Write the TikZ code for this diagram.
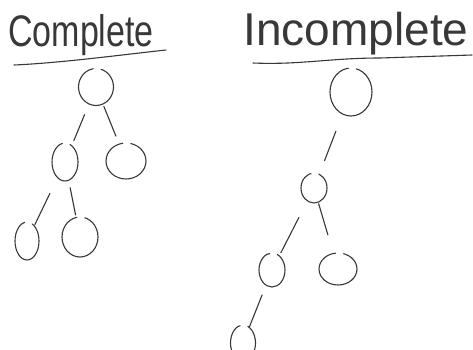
\documentclass[tikz,border=0pt]{standalone}
\usepackage{fontspec}
\setmainfont{Liberation Sans}
\usetikzlibrary{shapes.geometric}
\begin{document}
\begin{tikzpicture}[x=1pt,y=-1pt,
  ink/.style={draw=black!78, line width=1.1pt, line cap=round},
  % hand-drawn loop: an ellipse left slightly open near its top
  loop/.style n args={3}{ink, ellipse, inner sep=0pt,
    minimum width=#1pt, minimum height=#2pt,
    dash pattern=on #3pt off 8pt on 400pt},
  twig/.style n args={2}{ink, shorten <=#1pt, shorten >=#2pt},
  title/.style={text=black!78, inner sep=0pt}]
\fill[white] (0,0) rectangle (473,349);
\useasboundingbox (0,0) rectangle (473,349);
\clip (0,0) rectangle (473,349);

% headings and their rules
\node[title, font=\fontsize{34}{36}\selectfont, yscale=1.3] (hc) at (81,35) {Complete};
\node[title, font=\fontsize{46}{48}\selectfont] (hi) at (356,34) {Incomplete};
\draw[ink] (14,65) .. controls (60,63) and (120,55) .. (166,50);
\draw[ink] (253,63) .. controls (300,65) and (330,58) .. (380,58) -- (472,55);

% complete tree
\node[loop={35}{37}{23}] (c0) at (96,87) {};
\node[loop={26}{38}{20}] (c1) at (65,162) {};
\node[loop={40}{36}{25}] (c2) at (126,161) {};
\node[loop={24}{38}{19}] (c3) at (27,241) {};
\node[loop={36}{40}{25}] (c4) at (80,237) {};
\draw[twig={11}{5}] (c0) -- (c1);
\draw[twig={2}{8}] (c0) -- (c2);
\draw[twig={17}{1}] (c1) -- (c3);
\draw[twig={7}{2}] (c1) -- (c4);

% incomplete tree
\node[loop={42}{48}{30}] (i0) at (351,92) {};
\node[loop={26}{30}{17}] (i1) at (314,188) {};
\node[loop={26}{34}{18}] (i2) at (272,270) {};
\node[loop={38}{32}{22}] (i3) at (338,269) {};
\node[loop={25}{36}{19}] (i4) at (243,343) {};
\draw[twig={18}{14}] (i0) -- (i1);
\draw[twig={18}{3}] (i1) -- (i2);
\draw[twig={1}{19}] (i1) -- (i3);
\draw[twig={10}{0}] (i2) -- (i4);
\end{tikzpicture}
\end{document}
